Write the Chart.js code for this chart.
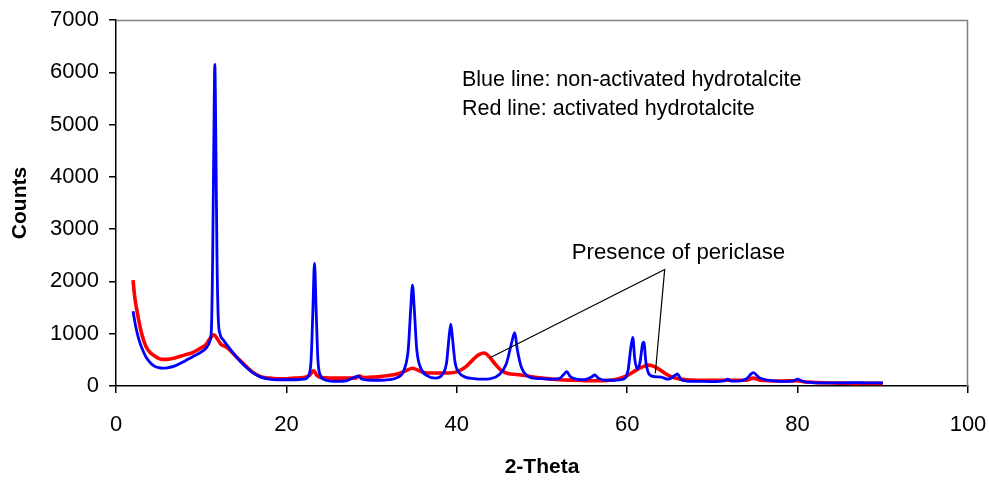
<!DOCTYPE html>
<html>
<head>
<meta charset="utf-8">
<script src="https://cdn.jsdelivr.net/npm/chart.js@4/dist/chart.umd.min.js"></script>
<style>
  html, body { margin:0; padding:0; background:#fff; }
  #wrap { width:989px; height:480px; }
</style>
</head>
<body>
<div id="wrap"><canvas id="xrd" width="989" height="480"></canvas></div>
<script>
// XRD patterns - hydrotalcite, activated vs non-activated
const blueTheta = [2.0,2.3,2.7,3.0,3.5,4.0,4.5,5.0,5.5,6.0,7.0,8.0,9.0,10.0,10.6,11.0,11.2,11.35,11.5,11.6,11.7,11.85,12.0,12.2,12.6,13.0,14.0,15.0,16.0,17.0,18.0,19.0,20.0,21.0,22.0,22.6,22.9,23.1,23.3,23.5,23.7,24.0,24.5,25.0,26.0,27.0,28.0,28.4,28.9,30.0,31.0,32.0,33.0,33.8,34.3,34.6,34.8,35.0,35.3,35.8,36.5,37.5,38.3,38.8,39.1,39.3,39.5,39.8,40.3,41.0,42.0,43.0,44.0,45.0,45.8,46.4,46.8,47.1,47.6,48.3,49.0,50.0,51.0,52.0,52.6,52.9,53.3,54.0,55.0,55.8,56.2,56.6,57.5,58.5,59.5,60.1,60.4,60.65,60.9,61.2,61.5,61.8,61.95,62.2,62.6,63.2,64.0,64.8,65.5,65.9,66.3,67.0,68.0,70.0,71.4,71.8,72.2,73.0,74.0,74.8,75.5,76.5,78.0,79.5,80.0,80.5,81.0,83.0,85.0,87.0,88.0,90.0];
const blueCounts = [1430,1150,880,740,560,450,380,350,340,345,390,470,560,650,730,850,1100,2500,5000,6150,5000,2500,1300,1000,880,790,580,400,260,170,130,120,120,120,130,200,500,1400,2350,1400,500,200,120,100,90,100,170,190,130,110,110,120,160,300,700,1500,1930,1500,700,330,200,150,220,450,950,1185,900,450,250,170,140,130,140,220,420,800,1020,700,350,190,150,140,130,140,230,275,180,130,120,170,210,150,110,110,130,300,700,930,500,330,450,800,840,450,220,180,170,130,190,230,130,95,90,85,100,130,95,95,140,255,160,110,90,100,130,95,75,60,60,65,60,60];

const redTheta = [2.0,2.2,2.5,3.0,3.5,4.0,4.5,5.0,5.5,6.0,7.0,8.0,9.0,10.0,10.6,11.0,11.5,11.9,12.3,13.0,14.0,15.0,16.0,17.0,18.0,19.0,20.0,21.0,22.0,22.7,23.2,23.6,24.2,26.0,28.0,28.6,29.0,30.0,31.0,32.0,33.0,34.0,34.8,35.6,36.5,38.0,39.0,40.0,41.0,42.0,42.6,43.2,43.8,44.5,45.2,46.0,47.0,48.0,49.0,50.0,52.0,54.0,56.0,58.0,59.0,60.0,61.0,62.0,62.5,63.2,64.0,65.0,66.0,67.0,70.0,72.0,74.0,74.8,75.6,78.0,80.0,81.0,85.0,90.0];
const redCounts = [2025,1700,1400,1010,760,640,580,530,510,510,540,590,640,730,800,900,980,900,800,740,580,420,270,180,150,140,140,150,160,200,290,200,160,150,150,190,160,170,180,200,230,290,340,290,250,250,250,270,360,520,600,630,560,420,300,240,220,200,170,150,120,110,100,110,140,200,300,380,400,370,290,190,140,120,110,110,110,150,110,95,100,75,55,50];

// callout pointer: red peak -> label -> blue/red shoulder
const pointerTheta = [43.9, 64.4, 63.3];
const pointerCounts = [540, 2230, 245];

const xTicks = [0, 20, 40, 60, 80, 100];
const yTicks = [0, 1000, 2000, 3000, 4000, 5000, 6000, 7000];

const FONT = 'Arial, "Liberation Sans", sans-serif';

function pts(xs, ys){ return xs.map((x,i)=>({x:x, y:ys[i]})); }

// notes drawn at data coords (x) and page rows (baseline)
const notes = [
  { text:'Blue line: non-activated hydrotalcite', x:40.6, base:86, size:21.5 },
  { text:'Red line: activated hydrotalcite', x:40.6, base:115, size:21.5 },
  { text:'Presence of periclase', x:53.5, base:259, size:22.2 }
];

const extras = {
  id:'extras',
  afterDraw(chart){
    const {ctx, chartArea:a, scales} = chart;
    ctx.save();
    // top + right frame
    ctx.strokeStyle = '#808080';
    ctx.lineWidth = 1.5;
    ctx.beginPath();
    ctx.moveTo(a.left, a.top + 0.5);
    ctx.lineTo(a.right - 0.5, a.top + 0.5);
    ctx.lineTo(a.right - 0.5, a.bottom);
    ctx.stroke();
    // notes
    ctx.fillStyle = '#000';
    ctx.textBaseline = 'alphabetic';
    notes.forEach(n => {
      ctx.font = n.size + 'px ' + FONT;
      ctx.fillText(n.text, scales.x.getPixelForValue(n.x), n.base);
    });
    ctx.restore();
  }
};

new Chart(document.getElementById('xrd'), {
  type:'line',
  data:{
    datasets:[
      { label:'pointer', data:pts(pointerTheta, pointerCounts), borderColor:'#000', borderWidth:1.2, pointRadius:0, tension:0 },
      { label:'non-activated', data:pts(blueTheta, blueCounts), borderColor:'#0000ff', borderWidth:2.8, pointRadius:0, cubicInterpolationMode:'monotone' },
      { label:'activated', data:pts(redTheta, redCounts), borderColor:'#ff0000', borderWidth:3.6, pointRadius:0, cubicInterpolationMode:'monotone' }
    ]
  },
  options:{
    responsive:false,
    animation:false,
    layout:{ padding:{ top:20, right:21, left:0, bottom:0 } },
    plugins:{ legend:{display:false}, tooltip:{enabled:false} },
    scales:{
      x:{
        type:'linear', min:0, max:100,
        afterBuildTicks: s => { s.ticks = xTicks.map(v=>({value:v})); },
        afterFit: s => { s.height = 94; s.paddingLeft = 0; s.paddingRight = 0; },
        border:{ color:'#000', width:1.5 },
        grid:{ drawOnChartArea:false, drawTicks:true, tickLength:7, color:'#000', lineWidth:1.5 },
        ticks:{ color:'#000', font:{ family:FONT, size:22 }, padding:19, maxRotation:0, callback: v => String(v) },
        title:{ display:true, text:'2-Theta', color:'#000', font:{ family:FONT, size:21, weight:'bold' }, padding:{ top:0, bottom:0 } }
      },
      y:{
        type:'linear', min:0, max:7000,
        afterBuildTicks: s => { s.ticks = yTicks.map(v=>({value:v})); },
        afterFit: s => { s.width = 116; s.paddingTop = 0; s.paddingBottom = 0; },
        border:{ color:'#000', width:1.5 },
        grid:{ drawOnChartArea:false, drawTicks:true, tickLength:7, color:'#000', lineWidth:1.5 },
        ticks:{ color:'#000', font:{ family:FONT, size:22 }, padding:10, callback: v => String(v) },
        title:{ display:true, text:'Counts', color:'#000', font:{ family:FONT, size:21, weight:'bold' }, padding:{ top:8, bottom:0 } }
      }
    }
  },
  plugins:[extras]
});
</script>
</body>
</html>
